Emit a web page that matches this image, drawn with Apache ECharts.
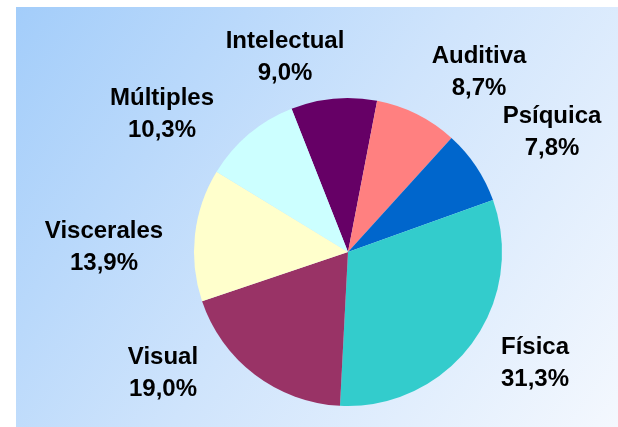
<!DOCTYPE html>
<html>
<head>
<meta charset="utf-8">
<script src="https://cdn.jsdelivr.net/npm/echarts@6/dist/echarts.min.js"></script>
<style>
  html, body { margin: 0; padding: 0; background: #ffffff; }
  #chart { width: 618px; height: 427px; }
</style>
</head>
<body>
<div id="chart"></div>
<script>
// Distribución por tipo de discapacidad (%)
const categories = ['Intelectual', 'Auditiva', 'Psíquica', 'Física', 'Visual', 'Viscerales', 'Múltiples'];
const values = [9.0, 8.7, 7.8, 31.3, 19.0, 13.9, 10.3];
const colors = ['#660066', '#ff8080', '#0066cc', '#33cccc', '#993366', '#ffffcc', '#ccffff'];

// Label block centres (px) for each category, in the same order
const labelSpots = [
  [285, 57], [479, 72], [552, 132], [535, 363], [163, 373], [104, 247], [162, 114]
];

const fmt = v => v.toFixed(1).replace('.', ',') + '%';

const chart = echarts.init(document.getElementById('chart'), null, { renderer: 'canvas' });

chart.setOption({
  backgroundColor: '#ffffff',
  animation: false,
  graphic: [{
    type: 'rect',
    z: -10,
    silent: true,
    shape: { x: 16, y: 7, width: 602, height: 420 },
    style: {
      fill: new echarts.graphic.LinearGradient(0, 0, 1, 1, [
        { offset: 0, color: '#a3cdfa' },
        { offset: 0.5, color: '#cfe4fc' },
        { offset: 1, color: '#f4f8fe' }
      ])
    }
  }],
  series: [{
    type: 'pie',
    center: [348, 252],
    radius: 154,
    startAngle: 111.5,
    clockwise: true,
    avoidLabelOverlap: false,
    itemStyle: { borderWidth: 0 },
    emphasis: { disabled: true },
    label: {
      show: true,
      position: 'outside',
      formatter: p => p.name + '\n' + fmt(p.value),
      fontFamily: '"Liberation Sans", Arial, sans-serif',
      fontWeight: 'bold',
      fontSize: 24,
      lineHeight: 32,
      color: '#000000',
      align: 'center'
    },
    labelLine: { show: false },
    labelLayout: params => ({
      x: labelSpots[params.dataIndex][0],
      y: labelSpots[params.dataIndex][1],
      align: 'center',
      verticalAlign: 'middle'
    }),
    data: categories.map((name, i) => ({
      name: name,
      value: values[i],
      itemStyle: { color: colors[i] }
    }))
  }]
});
</script>
</body>
</html>
